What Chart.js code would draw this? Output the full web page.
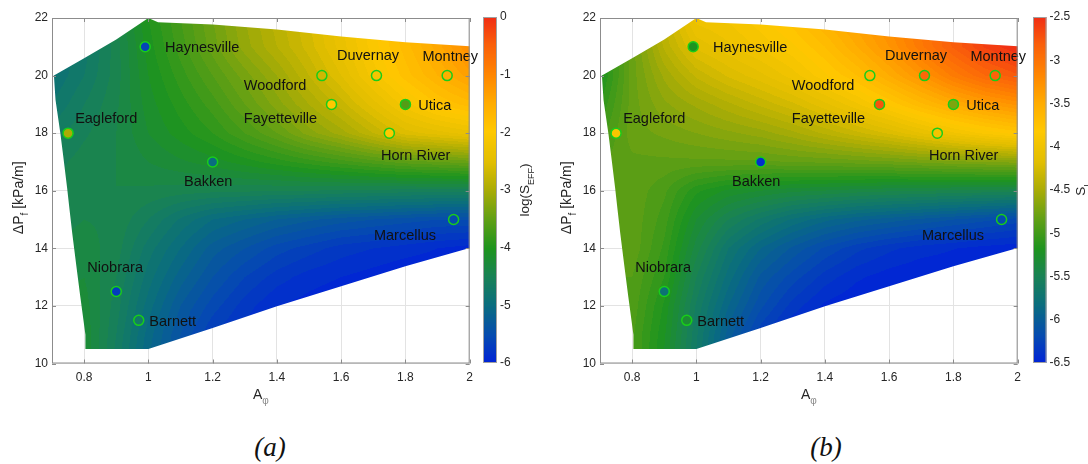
<!DOCTYPE html>
<html>
<head>
<meta charset="utf-8">
<script src="https://cdn.jsdelivr.net/npm/chart.js@4.4.0/dist/chart.umd.min.js"></script>
<style>
  body { margin: 0; background: #fff; width: 1088px; height: 464px; position: relative; overflow: hidden; }
  canvas { position: absolute; top: 0; }
  .cap { position: absolute; top: 428px; width: 100px; text-align: center; font: italic 27px "Liberation Serif", "DejaVu Serif", serif; color: #111; line-height: 38px; }
</style>
</head>
<body>
<canvas id="plotA" width="480" height="420" style="left:0"></canvas>
<canvas id="cbA" width="80" height="420" style="left:470px"></canvas>
<canvas id="plotB" width="480" height="420" style="left:548px"></canvas>
<canvas id="cbB" width="68" height="420" style="left:1020px"></canvas>
<div class="cap" style="left:220px">(a)</div>
<div class="cap" style="left:776px">(b)</div>
<script>
// axis ticks
const xTicks = [0.8, 1, 1.2, 1.4, 1.6, 1.8, 2];
const yTicks = [10, 12, 14, 16, 18, 20, 22];

// plays and their positions (A_phi, dP_f)
const siteNames = ["Haynesville", "Duvernay", "Montney", "Woodford", "Fayetteville", "Utica",
                   "Eagleford", "Horn River", "Bakken", "Marcellus", "Niobrara", "Barnett"];
const siteA = [0.99, 1.71, 1.93, 1.54, 1.57, 1.80, 0.75, 1.75, 1.20, 1.95, 0.90, 0.97];
const siteP = [21, 20, 20, 20, 19, 19, 18, 18, 17, 15, 12.5, 11.5];
// where the names sit (data units, left end of text)
const labelA = [1.052, 1.587, 1.853, 1.297, 1.297, 1.84, 0.772, 1.724, 1.111, 1.702, 0.81, 1.003];
const labelP = [20.96, 20.67, 20.65, 19.65, 18.5, 18.96, 18.5, 17.22, 16.29, 14.44, 13.32, 11.43];

// marker values
const siteLogS = [-5.6, -2.15, -1.53, -2.68, -2.0, -3.6, -3.0, -2.0, -5.0, -5.5, -5.7, -4.7];
const siteSI = [-5.2, -2.9, -2.86, -3.62, -2.75, -4.7, -3.9, -3.95, -6.4, -6.17, -5.75, -5.3];

// sampled surface, columns A = 0.7..2.0, rows dP = 22..10
const gridA = [0.7, 0.8, 0.9, 1.0, 1.1, 1.2, 1.3, 1.4, 1.5, 1.6, 1.7, 1.8, 1.9, 2.0];
const gridP = [22, 21, 20, 19, 18, 17, 16, 15, 14, 13, 12, 11, 10];
const logSEff = [
  [-4.95, -4.75, -4.40, -4.00, -3.70, -3.40, -3.10, -2.85, -2.60, -2.30, -2.00, -1.70, -1.35, -1.00],
  [-4.95, -4.75, -4.45, -4.05, -3.75, -3.45, -3.15, -2.90, -2.65, -2.35, -2.05, -1.75, -1.45, -1.10],
  [-4.90, -4.70, -4.45, -4.10, -3.85, -3.60, -3.35, -3.10, -2.80, -2.50, -2.15, -1.85, -1.60, -1.35],
  [-4.80, -4.60, -4.42, -4.15, -3.95, -3.75, -3.50, -3.25, -3.00, -2.75, -2.45, -2.15, -1.90, -1.75],
  [-4.65, -4.52, -4.40, -4.20, -4.05, -3.90, -3.70, -3.50, -3.25, -3.05, -2.80, -2.55, -2.45, -2.35],
  [-4.55, -4.45, -4.40, -4.30, -4.22, -4.15, -4.05, -3.95, -3.85, -3.75, -3.65, -3.55, -3.50, -3.45],
  [-4.50, -4.40, -4.40, -4.42, -4.45, -4.47, -4.48, -4.50, -4.50, -4.52, -4.53, -4.55, -4.55, -4.55],
  [-4.45, -4.40, -4.42, -4.60, -4.82, -5.00, -5.10, -5.20, -5.28, -5.35, -5.40, -5.45, -5.50, -5.50],
  [-4.40, -4.35, -4.45, -4.75, -5.00, -5.25, -5.40, -5.55, -5.65, -5.75, -5.80, -5.85, -5.90, -5.95],
  [-4.35, -4.30, -4.50, -4.85, -5.15, -5.40, -5.60, -5.75, -5.85, -5.90, -5.95, -6.00, -6.00, -6.00],
  [-4.30, -4.25, -4.55, -4.95, -5.30, -5.55, -5.75, -5.90, -5.95, -6.00, -6.00, -6.00, -6.00, -6.00],
  [-4.25, -4.22, -4.60, -5.05, -5.40, -5.70, -5.85, -5.95, -6.00, -6.00, -6.00, -6.00, -6.00, -6.00],
  [-4.25, -4.20, -4.65, -5.10, -5.45, -5.75, -5.90, -6.00, -6.00, -6.00, -6.00, -6.00, -6.00, -6.00]
];
const sI = [
  [-5.20, -4.75, -4.35, -4.00, -3.95, -3.85, -3.72, -3.55, -3.38, -3.20, -3.00, -2.80, -2.60, -2.45],
  [-5.20, -4.80, -4.42, -4.15, -4.05, -3.95, -3.85, -3.70, -3.50, -3.30, -3.05, -2.82, -2.62, -2.50],
  [-5.20, -4.80, -4.55, -4.35, -4.22, -4.12, -4.00, -3.85, -3.70, -3.50, -3.30, -3.08, -2.90, -2.78],
  [-5.10, -4.80, -4.65, -4.55, -4.45, -4.35, -4.25, -4.12, -3.98, -3.82, -3.65, -3.50, -3.38, -3.28],
  [-5.00, -4.80, -4.75, -4.70, -4.65, -4.60, -4.52, -4.42, -4.32, -4.22, -4.10, -3.98, -3.88, -3.80],
  [-4.90, -4.85, -4.85, -4.85, -4.85, -4.85, -4.83, -4.82, -4.80, -4.78, -4.75, -4.72, -4.70, -4.68],
  [-4.85, -4.85, -4.95, -5.15, -5.25, -5.30, -5.35, -5.37, -5.40, -5.42, -5.43, -5.45, -5.46, -5.47],
  [-4.85, -4.85, -5.00, -5.30, -5.50, -5.65, -5.78, -5.88, -5.95, -6.00, -6.05, -6.10, -6.15, -6.20],
  [-4.85, -4.85, -5.05, -5.40, -5.70, -5.90, -6.05, -6.18, -6.28, -6.35, -6.40, -6.43, -6.46, -6.48],
  [-4.90, -4.90, -5.10, -5.50, -5.80, -6.05, -6.20, -6.33, -6.42, -6.47, -6.50, -6.50, -6.50, -6.50],
  [-4.95, -4.92, -5.18, -5.58, -5.90, -6.15, -6.33, -6.45, -6.50, -6.50, -6.50, -6.50, -6.50, -6.50],
  [-5.00, -4.95, -5.22, -5.62, -6.00, -6.28, -6.45, -6.50, -6.50, -6.50, -6.50, -6.50, -6.50, -6.50],
  [-5.00, -4.95, -5.25, -5.65, -6.05, -6.35, -6.50, -6.50, -6.50, -6.50, -6.50, -6.50, -6.50, -6.50]
];

// outline of the valid region
const edgeA = [0.706, 0.8, 0.9, 1.0, 1.03, 1.2, 1.4, 1.6, 1.8, 2.0, 2.0, 1.8, 1.6, 1.4, 1.2, 1.0,
               0.804, 0.804, 0.788, 0.776, 0.763, 0.754, 0.747, 0.735, 0.726, 0.711, 0.706];
const edgeP = [20.0, 20.6, 21.25, 22.0, 21.85, 21.77, 21.6, 21.36, 21.16, 21.02, 14.01, 13.38, 12.68, 11.99, 11.23, 10.5,
               10.5, 11.0, 12.33, 13.37, 14.52, 15.4, 16.1, 17.2, 18.0, 19.15, 20.0];

// colormap stops
const cmapT = [0, 0.08, 0.17, 0.25, 0.33, 0.42, 0.5, 0.58, 0.67, 0.75, 0.83, 0.92, 1];
const cmapRGB = [[0,35,215],[5,75,175],[10,110,125],[25,130,85],[30,148,30],[100,160,20],[170,172,5],
                 [225,190,0],[255,200,0],[255,172,0],[255,135,0],[250,95,10],[240,45,20]];

function cmap(t) {
  t = Math.max(0, Math.min(1, t));
  let k = 0;
  while (k < cmapT.length - 2 && t > cmapT[k + 1]) k++;
  const f = (t - cmapT[k]) / (cmapT[k + 1] - cmapT[k]);
  const a = cmapRGB[k], b = cmapRGB[k + 1];
  return [0, 1, 2].map(c => Math.round(a[c] + (b[c] - a[c]) * f));
}
const rgb = c => `rgb(${c[0]},${c[1]},${c[2]})`;

function sample(field, a, p) {
  let fi = (a - gridA[0]) / (gridA[1] - gridA[0]);
  let fj = (gridP[0] - p) / (gridP[0] - gridP[1]);
  fi = Math.max(0, Math.min(gridA.length - 1.001, fi));
  fj = Math.max(0, Math.min(gridP.length - 1.001, fj));
  const i = Math.floor(fi), j = Math.floor(fj), u = fi - i, v = fj - j;
  return field[j][i] * (1 - u) * (1 - v) + field[j][i + 1] * u * (1 - v) +
         field[j + 1][i] * (1 - u) * v + field[j + 1][i + 1] * u * v;
}

function richText(ctx, parts, x, y, rot, size) {
  ctx.save();
  ctx.translate(x, y);
  ctx.rotate(rot);
  ctx.textBaseline = "alphabetic";
  ctx.textAlign = "left";
  let w = 0;
  parts.forEach(p => {
    ctx.font = `${p.sub ? Math.round(size * 0.68) : size}px "Liberation Sans", Arial, sans-serif`;
    p.w = ctx.measureText(p.t).width;
    w += p.w;
  });
  let cx = -w / 2;
  parts.forEach(p => {
    ctx.font = `${p.sub ? Math.round(size * 0.68) : size}px "Liberation Sans", Arial, sans-serif`;
    ctx.fillStyle = p.color || "#262626";
    ctx.fillText(p.t, cx, size * 0.36 + (p.sub ? size * 0.38 : 0));
    cx += p.w;
  });
  ctx.restore();
}

function fieldPlugin(field, lo, hi) {
  return {
    id: "field",
    beforeDatasetsDraw(chart) {
      const ctx = chart.ctx, area = chart.chartArea;
      const xs = chart.scales.x, ys = chart.scales.y;
      const w = Math.ceil(area.right - area.left), h = Math.ceil(area.bottom - area.top);
      const off = document.createElement("canvas");
      off.width = w; off.height = h;
      const octx = off.getContext("2d");
      const img = octx.createImageData(w, h);
      const levels = 60;
      for (let j = 0; j < h; j++) {
        const p = ys.getValueForPixel(area.top + j + 0.5);
        for (let i = 0; i < w; i++) {
          const a = xs.getValueForPixel(area.left + i + 0.5);
          const t = (sample(field, a, p) - lo) / (hi - lo);
          const band = Math.min(levels - 1, Math.max(0, Math.floor(t * levels)));
          const c = cmap((band + 0.5) / levels);
          const k = (j * w + i) * 4;
          img.data[k] = c[0]; img.data[k + 1] = c[1]; img.data[k + 2] = c[2]; img.data[k + 3] = 255;
        }
      }
      octx.putImageData(img, 0, 0);
      ctx.save();
      ctx.beginPath();
      edgeA.forEach((a, k) => {
        const px = xs.getPixelForValue(a), py = ys.getPixelForValue(edgeP[k]);
        if (k) ctx.lineTo(px, py); else ctx.moveTo(px, py);
      });
      ctx.closePath();
      ctx.clip();
      ctx.drawImage(off, area.left, area.top);
      ctx.restore();
    },
    afterDatasetsDraw(chart) {
      const ctx = chart.ctx, xs = chart.scales.x, ys = chart.scales.y;
      ctx.save();
      ctx.font = '14.5px "Liberation Sans", Arial, sans-serif';
      ctx.fillStyle = "#111";
      ctx.textAlign = "left";
      ctx.textBaseline = "middle";
      siteNames.forEach((n, k) => {
        ctx.fillText(n, xs.getPixelForValue(labelA[k]), ys.getPixelForValue(labelP[k]));
      });
      ctx.restore();
    },
    afterDraw(chart) {
      const ctx = chart.ctx, area = chart.chartArea, xs = chart.scales.x, ys = chart.scales.y;
      ctx.save();
      ctx.strokeStyle = "#8c8c8c";
      ctx.lineWidth = 1;
      ctx.strokeRect(area.left + 0.5, area.top + 0.5, area.right - area.left - 1, area.bottom - area.top - 1);
      ctx.beginPath();
      xTicks.forEach(v => {
        const px = Math.round(xs.getPixelForValue(v)) + 0.5;
        ctx.moveTo(px, area.bottom); ctx.lineTo(px, area.bottom - 4);
        ctx.moveTo(px, area.top); ctx.lineTo(px, area.top + 4);
      });
      yTicks.forEach(v => {
        const py = Math.round(ys.getPixelForValue(v)) + 0.5;
        ctx.moveTo(area.left, py); ctx.lineTo(area.left + 4, py);
        ctx.moveTo(area.right, py); ctx.lineTo(area.right - 4, py);
      });
      ctx.stroke();
      ctx.restore();
      const cy = (area.top + area.bottom) / 2;
      richText(chart.ctx, [{ t: "ΔP" }, { t: "f", sub: true }, { t: " [kPa/m]" }], area.left - 34, cy + 7, -Math.PI / 2, 14);
      richText(chart.ctx, [{ t: "A" }, { t: "φ", sub: true, color: "#8a8a8a" }], (area.left + area.right) / 2, area.bottom + 30, 0, 14);
    }
  };
}

function makePanel(id, field, vals, lo, hi) {
  return new Chart(document.getElementById(id), {
    type: "scatter",
    data: {
      datasets: [{
        data: siteA.map((a, k) => ({ x: a, y: siteP[k] })),
        pointRadius: 5,
        pointHoverRadius: 5,
        pointBorderWidth: 1.5,
        pointBorderColor: "rgb(25,205,25)",
        pointBackgroundColor: vals.map(v => rgb(cmap((v - lo) / (hi - lo))))
      }]
    },
    options: {
      responsive: false,
      animation: false,
      events: [],
      layout: { padding: { top: 18, right: 9, left: 0, bottom: 0 } },
      plugins: { legend: { display: false }, tooltip: { enabled: false } },
      scales: {
        x: {
          type: "linear", min: 0.7, max: 2,
          afterBuildTicks: s => { s.ticks = xTicks.map(v => ({ value: v })); },
          afterFit: s => { s.height = 56.5; },
          ticks: { callback: v => String(Math.round(v * 10) / 10), color: "#262626", padding: 7, maxRotation: 0,
                   font: { size: 12, family: '"Liberation Sans", Arial, sans-serif' } },
          grid: { color: "#e3e3e3", drawTicks: false },
          border: { display: false }
        },
        y: {
          type: "linear", min: 10, max: 22,
          afterBuildTicks: s => { s.ticks = yTicks.map(v => ({ value: v })); },
          afterFit: s => { s.width = 52; },
          ticks: { callback: v => String(v), color: "#262626", padding: 4,
                   font: { size: 12, family: '"Liberation Sans", Arial, sans-serif' } },
          grid: { color: "#e3e3e3", drawTicks: false },
          border: { display: false }
        }
      }
    },
    plugins: [fieldPlugin(field, lo, hi)]
  });
}

function makeColorbar(id, lo, hi, step, axisWidth, titleParts, titleOffset) {
  return new Chart(document.getElementById(id), {
    type: "scatter",
    data: { datasets: [] },
    options: {
      responsive: false,
      animation: false,
      events: [],
      layout: { padding: { top: 17, bottom: 57, left: 13, right: 0 } },
      plugins: { legend: { display: false }, tooltip: { enabled: false } },
      scales: {
        x: { display: false, min: 0, max: 1 },
        y: {
          position: "right", min: lo, max: hi,
          afterFit: s => { s.width = axisWidth; },
          ticks: { stepSize: step, callback: v => String(v), color: "#262626", padding: 3,
                   font: { size: 12, family: '"Liberation Sans", Arial, sans-serif' } },
          grid: { display: false, drawTicks: false },
          border: { display: false }
        }
      }
    },
    plugins: [{
      id: "cbar",
      beforeDatasetsDraw(chart) {
        const ctx = chart.ctx, area = chart.chartArea, ys = chart.scales.y;
        for (let py = Math.floor(area.top); py < area.bottom; py++) {
          const v = ys.getValueForPixel(py + 0.5);
          ctx.fillStyle = rgb(cmap((v - lo) / (hi - lo)));
          ctx.fillRect(area.left, py, area.right - area.left, 1);
        }
        ctx.strokeStyle = "#a0a0a0";
        ctx.lineWidth = 1;
        ctx.strokeRect(area.left + 0.5, area.top + 0.5, area.right - area.left - 1, area.bottom - area.top - 1);
      },
      afterDraw(chart) {
        const area = chart.chartArea;
        richText(chart.ctx, titleParts, area.right + titleOffset, (area.top + area.bottom) / 2, -Math.PI / 2, 13.5);
      }
    }]
  });
}

makePanel("plotA", logSEff, siteLogS, -6, 0);
makePanel("plotB", sI, siteSI, -6.5, -2.5);
makeColorbar("cbA", -6, 0, 1, 53, [{ t: "log(S" }, { t: "EFF", sub: true }, { t: ")" }], 27);
makeColorbar("cbB", -6.5, -2.5, 0.5, 41.5, [{ t: "S" }, { t: "I", sub: true }], 34);
</script>
</body>
</html>
